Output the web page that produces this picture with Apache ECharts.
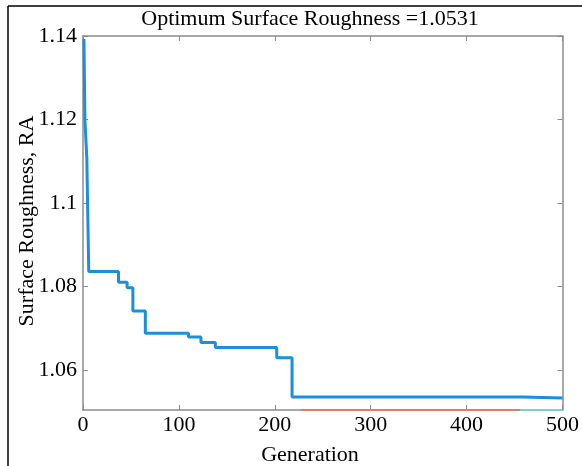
<!DOCTYPE html>
<html>
<head>
<meta charset="utf-8">
<script src="https://cdn.jsdelivr.net/npm/echarts@6/dist/echarts.min.js"></script>
<style>
  html, body { margin: 0; padding: 0; background: #fff; }
  #chart { width: 582px; height: 466px; }
</style>
</head>
<body>
<div id="chart"></div>
<script>
// best roughness per generation (step changes only)
const stepGens = [1, 2, 4, 6, 37, 46, 52, 65, 110, 123, 138, 202, 218, 458, 500]
const stepVals = [1.1393, 1.1200, 1.1107, 1.0836, 1.0810, 1.0797, 1.0741, 1.0688, 1.0679, 1.0666, 1.0654, 1.0629, 1.0535, 1.0533, 1.0533]
// other traces, sitting at the bottom edge of the axes
const lowGensA = [227, 456]
const lowValsA = [1.0504, 1.0504]
const lowGensB = [456, 500]
const lowValsB = [1.0504, 1.0504]
const yTicks = [1.06, 1.08, 1.1, 1.12, 1.14]
const xTicks = [0, 100, 200, 300, 400, 500]

const yMin = 1.0504, yMax = 1.14
const font = 'Liberation Serif'
const axisGray = '#8c8c8c'

const zip = (xs, ys) => xs.map((x, i) => [x, ys[i]])

const chart = echarts.init(document.getElementById('chart'))

const baseX = {
  type: 'value', min: xTicks[0], max: xTicks[xTicks.length - 1], interval: 100,
  axisLine: { show: true, onZero: false, lineStyle: { color: axisGray, width: 1.5 } },
  axisTick: { show: true, inside: true, length: 5, lineStyle: { color: axisGray } },
  splitLine: { show: false }
}
const baseY = {
  type: 'value', min: yMin, max: yMax,
  axisLine: { show: true, onZero: false, lineStyle: { color: axisGray, width: 1.5 } },
  axisTick: { show: true, inside: true, length: 5, customValues: yTicks, lineStyle: { color: axisGray } },
  splitLine: { show: false }
}

const option = {
  animation: false,
  backgroundColor: '#fff',
  grid: { left: 83, right: 17, top: 36, bottom: 56 },
  xAxis: [
    Object.assign({}, baseX, {
      position: 'bottom',
      axisLabel: { fontFamily: font, fontSize: 22, color: '#000', margin: 4 }
    }),
    Object.assign({}, baseX, { position: 'top', axisLabel: { show: false } })
  ],
  yAxis: [
    Object.assign({}, baseY, {
      position: 'left',
      axisLabel: {
        fontFamily: font, fontSize: 22, color: '#000', margin: 6,
        customValues: yTicks,
        formatter: v => String(+v.toFixed(2))
      }
    }),
    Object.assign({}, baseY, { position: 'right', axisLabel: { show: false } })
  ],
  graphic: [
    // frame of the figure
    { type: 'line', shape: { x1: 8, y1: 6, x2: 582, y2: 6 }, style: { stroke: '#000', lineWidth: 1.5 } },
    { type: 'line', shape: { x1: 8, y1: 6, x2: 8, y2: 466 }, style: { stroke: '#000', lineWidth: 1.5 } },
    { type: 'text', x: 310, y: 19, style: { text: 'Optimum Surface Roughness =1.0531', font: '22px "Liberation Serif"', fill: '#000', align: 'center', verticalAlign: 'middle' } },
    { type: 'text', x: 310, y: 455, style: { text: 'Generation', font: '22px "Liberation Serif"', fill: '#000', align: 'center', verticalAlign: 'middle' } },
    { type: 'text', x: 27, y: 221, rotation: Math.PI / 2, style: { text: 'Surface Roughness, RA', font: '22px "Liberation Serif"', fill: '#000', align: 'center', verticalAlign: 'middle' } }
  ],
  series: [
    {
      type: 'line', step: 'end', showSymbol: false, clip: true,
      data: zip(stepGens, stepVals),
      lineStyle: { color: '#1b8fdb', width: 3 }
    },
    {
      type: 'line', showSymbol: false, clip: false,
      data: zip(lowGensA, lowValsA),
      lineStyle: { color: '#d9826a', width: 2 }
    },
    {
      type: 'line', showSymbol: false, clip: false,
      data: zip(lowGensB, lowValsB),
      lineStyle: { color: '#7ccfd6', width: 2 }
    }
  ]
}

chart.setOption(option)
</script>
</body>
</html>
